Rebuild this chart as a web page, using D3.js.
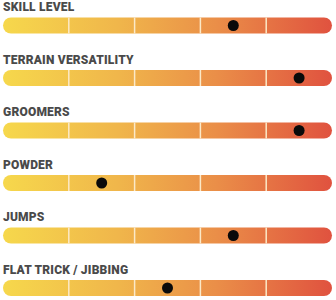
<!DOCTYPE html>
<html><head><meta charset="utf-8">
<script src="https://cdn.jsdelivr.net/npm/d3@7"></script>
<style>html,body{margin:0;padding:0;background:#fff;}</style>
</head><body>
<svg id="c" width="336" height="300"></svg>
<script>
const categories = ["SKILL LEVEL","TERRAIN VERSATILITY","GROOMERS","POWDER","JUMPS","FLAT TRICK / JIBBING"];
const values = [7, 9, 9, 3, 7, 5];
const segments = [0, 2, 4, 6, 8, 10];

const W = 336, H = 300;
const left = 3, right = 332, barH = 16;
const svg = d3.select("#c");
const x = d3.scaleLinear().domain([0, 10]).range([left, right]);
const y = d3.scaleBand().domain(categories).range([17.5, 17.5 + 6 * 52.5]);

const defs = svg.append("defs");
const g = defs.append("linearGradient").attr("id","grad")
  .attr("gradientUnits","userSpaceOnUse").attr("x1",left).attr("x2",right).attr("y1",0).attr("y2",0);
[["0%","#f6d84c"],["35%","#f0b64b"],["65%","#ea8e48"],["100%","#e0523f"]].forEach(s=>g.append("stop").attr("offset",s[0]).attr("stop-color",s[1]));

const rows = svg.selectAll("g.row").data(categories).join("g").attr("class","row")
  .attr("transform", d => `translate(0,${y(d)})`);

rows.append("text").attr("x", 3).attr("y", -6.5)
  .attr("font-family","Roboto, 'Open Sans', sans-serif").attr("font-weight","900")
  .attr("font-size","12px").attr("letter-spacing","0.2px").attr("fill","#4a4a4a").text(d => d);

rows.append("rect").attr("x", left).attr("y", 0).attr("width", right-left).attr("height", barH)
  .attr("rx", barH/2).attr("fill","url(#grad)");

rows.selectAll("line.div").data(segments.slice(1,-1)).join("line").attr("class","div")
  .attr("x1", d=>x(d)).attr("x2", d=>x(d)).attr("y1", 0).attr("y2", barH)
  .attr("stroke","#fbe9c8").attr("stroke-width",1.5);

rows.append("circle").attr("cx", (d,i) => x(values[i])).attr("cy", barH/2).attr("r", 5.5).attr("fill","#0a0a0a");
</script>
</body></html>
